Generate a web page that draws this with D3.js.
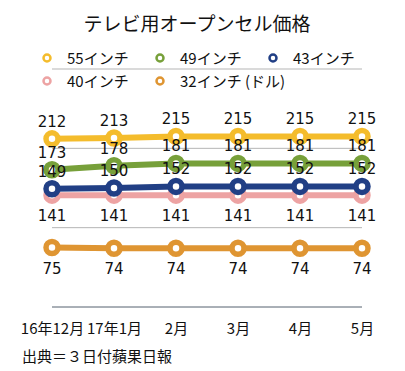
<!DOCTYPE html>
<html>
<head>
<meta charset="utf-8">
<script src="https://cdn.jsdelivr.net/npm/d3@7"></script>
<style>
  body { margin: 0; background: #fff; }
  text { font-family: "Noto Sans CJK JP", "Noto Sans", sans-serif; fill: #111; }
</style>
</head>
<body>
<div id="chart-area"></div>
<script>
// Data
var months = ["16年12月", "17年1月", "2月", "3月", "4月", "5月"];
var seriesNames = ["55インチ", "49インチ", "43インチ", "40インチ", "32インチ (ドル)"];
var seriesColors = ["#F4BC2C", "#77A03A", "#213F85", "#EDA3A3", "#DF9532"];
var labelSide = ["above", "above", "above", "below", "below"];
var v55 = [212, 213, 215, 215, 215, 215];
var v49 = [173, 178, 181, 181, 181, 181];
var v43 = [149, 150, 152, 152, 152, 152];
var v40 = [141, 141, 141, 141, 141, 141];
var v32 = [75, 74, 74, 74, 74, 74];
var yTicks = [0, 100, 200, 300];

var series = [v55, v49, v43, v40, v32].map(function(vals, i){
    return { name: seriesNames[i], color: seriesColors[i], side: labelSide[i], values: vals };
});

var width = 405, height = 371;

var svg = d3.select("#chart-area")
    .append("svg")
        .attr("width", width)
        .attr("height", height);

// Scales
var x = d3.scalePoint()
    .domain(months)
    .range([52, 362]);
var y = d3.scaleLinear()
    .domain([0, 300])
    .range([307, 69]);

// Title
svg.append("text")
    .attr("x", 197)
    .attr("y", 31)
    .attr("text-anchor", "middle")
    .attr("font-size", "19px")
    .text("テレビ用オープンセル価格");

// Gridlines
svg.selectAll(".grid")
    .data(yTicks.filter(function(d){ return d > 0; }))
    .enter().append("line")
        .attr("class", "grid")
        .attr("x1", 52).attr("x2", 362)
        .attr("y1", function(d){ return y(d); })
        .attr("y2", function(d){ return y(d); })
        .attr("stroke", "#b5b5b5")
        .attr("stroke-width", 1);

// X Axis
var xAxisCall = d3.axisBottom(x).tickSize(0).tickPadding(16);
var xAxis = svg.append("g")
    .attr("transform", "translate(0," + y(0) + ")")
    .call(xAxisCall);
xAxis.select(".domain")
    .attr("d", "M52,0H362")
    .attr("stroke", "#55606e");
xAxis.selectAll("text")
    .attr("font-size", "15px")
    .style("font-family", "\"Noto Sans CJK JP\", sans-serif")
    .attr("fill", "#111");

// Legend
var legend = svg.append("g");
series.forEach(function(s, i){
    var row = Math.floor(i / 3), col = i % 3;
    var item = legend.append("g")
        .attr("transform", "translate(" + (47 + col * 113) + "," + (58 + row * 23) + ")");
    item.append("circle")
        .attr("r", 3.5)
        .attr("fill", "#fff")
        .attr("stroke", s.color)
        .attr("stroke-width", 2.5);
    item.append("text")
        .attr("x", 20)
        .attr("y", 6)
        .attr("font-size", "15px")
        .text(s.name);
});

var line = d3.line()
    .x(function(d, i){ return x(months[i]); })
    .y(function(d){ return y(d); });

// Lines, drawn bottom series first
var drawOrder = series.slice().reverse();
drawOrder.forEach(function(s){
    svg.append("path")
        .datum(s.values)
        .attr("fill", "none")
        .attr("stroke", s.color)
        .attr("stroke-width", 6)
        .attr("d", line);
    svg.selectAll(null)
        .data(s.values)
        .enter().append("circle")
            .attr("cx", function(d, i){ return x(months[i]); })
            .attr("cy", function(d){ return y(d); })
            .attr("r", 6)
            .attr("fill", "#fff")
            .attr("stroke", s.color)
            .attr("stroke-width", 5.5);
});

// Value labels
series.forEach(function(s){
    svg.selectAll(null)
        .data(s.values)
        .enter().append("text")
            .attr("x", function(d, i){ return x(months[i]); })
            .attr("y", function(d){ return s.side == "above" ? y(d) - 12 : y(d) + 26; })
            .attr("text-anchor", "middle")
            .attr("font-size", "15px")
            .style("font-family", "\"DejaVu Sans\", sans-serif")
            .text(function(d){ return d; });
});

// Source
svg.append("text")
    .attr("x", 22)
    .attr("y", 362)
    .attr("font-size", "15px")
    .text("出典＝３日付蘋果日報");
</script>
</body>
</html>
